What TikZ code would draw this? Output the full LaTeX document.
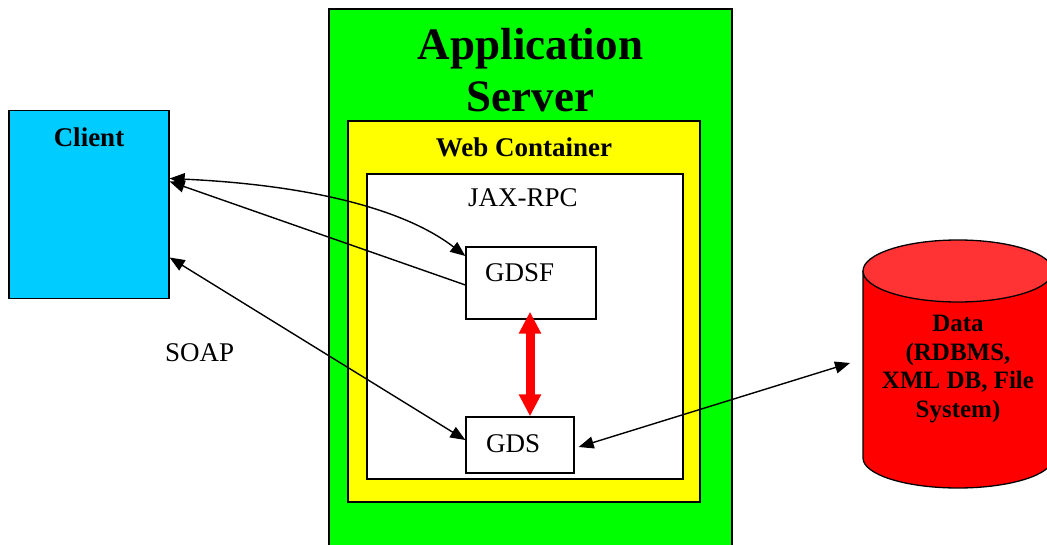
\documentclass[tikz,border=0pt]{standalone}
\usepackage{fontspec}
\setmainfont{Liberation Serif}
\usetikzlibrary{arrows.meta}
\definecolor{clientblue}{HTML}{00CCFF}
\definecolor{servergreen}{HTML}{00FF00}
\definecolor{webyellow}{HTML}{FFFF00}
\definecolor{dbred}{HTML}{FF0000}
\definecolor{dbtop}{HTML}{FF3333}
\begin{document}
\begin{tikzpicture}[x=1pt,y=-1pt,
  box/.style={draw=black, line width=1.3pt, inner sep=0pt, rectangle},
  lbl/.style={inner sep=0pt, anchor=base, font=\fontsize{27}{31}\selectfont},
  lblw/.style={inner sep=0pt, anchor=base west, font=\fontsize{27}{31}\selectfont},
  conn/.style={line width=1.4pt, -{Triangle[length=15pt,width=12pt]}},
  dbl/.style={line width=1.4pt, {Triangle[length=15pt,width=12pt]}-{Triangle[length=15pt,width=12pt]}},
  redarrow/.style={draw=dbred, line width=9pt, {Triangle[length=22pt,width=21pt]}-{Triangle[length=22pt,width=21pt]}},
]
\clip (0,0) rectangle (1047,545);
\fill[white] (0,0) rectangle (1047,545);

% containers
\node[box, fill=servergreen, minimum width=403pt, minimum height=560pt] (server) at (530.5,289) {};
\node[box, fill=webyellow, minimum width=352pt, minimum height=381pt] (web) at (524,311.5) {};
\node[box, fill=white, minimum width=316pt, minimum height=305pt] (jax) at (525,326.5) {};
\node[box, fill=clientblue, minimum width=160pt, minimum height=188pt] (client) at (89,204.5) {};
\node[box, fill=white, minimum width=130pt, minimum height=72pt] (gdsf) at (531,283) {};
\node[box, fill=white, minimum width=108pt, minimum height=56pt] (gds) at (520,445) {};

% database cylinder
\node[minimum width=190pt, minimum height=250pt, inner sep=0pt] (db) at (958,364) {};
\fill[dbred, draw=black, line width=1.3pt] (863,271) -- (863,458)
  arc[start angle=180, end angle=360, x radius=95pt, y radius=30pt] -- (1053,271)
  arc[start angle=0, end angle=-180, x radius=95pt, y radius=30pt] -- cycle;
\draw[fill=dbtop, line width=1.3pt] (958,271) ellipse [x radius=95pt, y radius=31pt];

% labels
\node[inner sep=0pt, anchor=base, align=center, font=\fontsize{45}{52}\selectfont\bfseries] (title) at (530.5,112) {Application\\Server};
\node[lbl, font=\fontsize{27}{31}\selectfont\bfseries] (webl) at (524,157) {Web Container};
\node[lbl] (jaxl) at (523,207) {JAX-RPC};
\node[lbl, font=\fontsize{27}{31}\selectfont\bfseries] (clientl) at (89,147) {Client};
\node[lblw] (gdsfl) at (485,282) {GDSF};
\node[lblw] (gdsl) at (486,452) {GDS};
\node[lblw] (soap) at (165,361) {SOAP};
\node[inner sep=0pt, anchor=base, align=center, font=\fontsize{25}{28.5}\selectfont\bfseries] (datal) at (958,417) {Data\\(RDBMS,\\XML DB, File\\System)};

% connectors
\coordinate (dbin) at (850,363);
\draw[dbl] ([yshift=26pt]client.east) .. controls +(130,6) and +(-65,-50) .. ([yshift=27pt]gdsf.west);
\draw[conn] ([yshift=-2pt]gdsf.west) -- ([yshift=23pt]client.east);
\draw[dbl] ([yshift=-53pt]client.east) -- ([yshift=5pt]gds.west);
\draw[redarrow] ([xshift=-1pt,yshift=8pt]gdsf.south) -- ([xshift=-1pt]gdsf.south |- gds.north);
\draw[dbl] ([xshift=4pt,yshift=-2pt]gds.east) -- (dbin);
\end{tikzpicture}
\end{document}
